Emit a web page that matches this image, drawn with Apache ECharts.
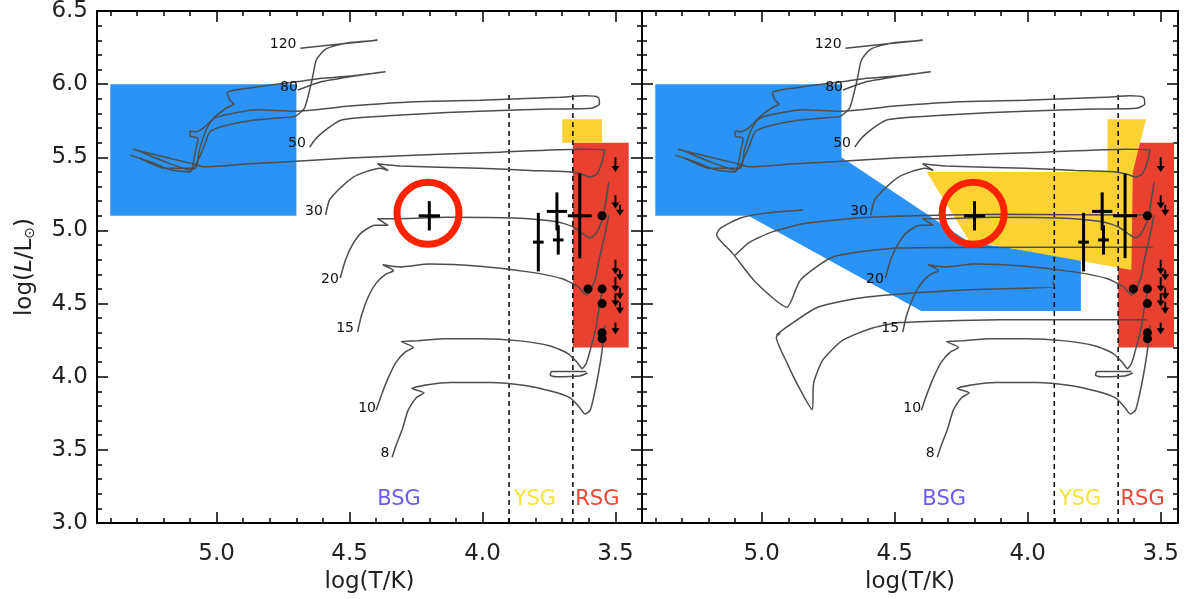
<!DOCTYPE html>
<html><head><meta charset="utf-8">
<script src="https://cdn.jsdelivr.net/npm/echarts@6/dist/echarts.min.js"></script>
<style>html,body{margin:0;padding:0;background:#fff}#c{width:1184px;height:599px}</style>
</head><body><div id="c"></div>
<script>
// ---------- axes ----------
const xMajorTicks = [3.5, 4.0, 4.5, 5.0];
const xMinorTicks = [3.5,3.6,3.7,3.8,3.9,4.0,4.1,4.2,4.3,4.4,4.5,4.6,4.7,4.8,4.9,5.0,5.1,5.2,5.3,5.4];
const yMin = 3.0, yMax = 6.5, yStep = 0.5;
const xRangeLeft = [3.40, 5.45];
const xRangeRight = [3.435, 5.45];

// ---------- shaded regions (logT, logL) ----------
const blueLeft = [[5.40,6.00],[4.70,6.00],[4.70,5.10],[5.40,5.10]];
const yellowLeft = [[3.70,5.76],[3.55,5.76],[3.55,5.60],[3.70,5.60]];
const redBox = [[3.66,5.60],[3.45,5.60],[3.45,4.20],[3.66,4.20]];
const blueRight = [[5.40,6.00],[4.70,6.00],[4.70,5.50],[4.22,4.92],[3.80,4.81],[3.80,4.45],[4.40,4.45],[5.05,5.10],[5.40,5.10]];
const yellowRight = [[4.38,5.40],[3.70,5.40],[3.70,5.76],[3.555,5.76],[3.605,5.40],[3.61,4.73],[4.22,4.93]];

// ---------- dashed boundaries ----------
const dashT = [3.90, 3.66];
const dashL = [3.0, 5.95];

// ---------- evolutionary tracks ----------
const track8 = [[4.34,3.45],[4.325,3.53],[4.30,3.65],[4.28,3.77],[4.25,3.855],[4.22,3.89],[4.265,3.92],[4.205,3.945],[4.12,3.96],[3.97,3.96],[3.84,3.94],[3.74,3.90],[3.67,3.855],[3.635,3.79],[3.615,3.745],[3.595,3.77],[3.58,3.875],[3.565,4.01],[3.55,4.18],[3.54,4.35]];
const track10 = [[4.40,3.77],[4.38,3.875],[4.355,3.99],[4.325,4.10],[4.29,4.17],[4.26,4.20],[4.305,4.24],[4.245,4.245],[4.14,4.26],[4.01,4.26],[3.86,4.245],[3.745,4.21],[3.68,4.16],[3.645,4.10],[3.625,4.055],[3.61,4.09],[3.595,4.18],[3.575,4.32],[3.56,4.49],[3.545,4.63]];
const loop10 = [[3.61,4.035],[3.67,4.035],[3.74,4.035],[3.745,4.01],[3.725,4.00],[3.635,4.005],[3.605,4.025]];
const track15 = [[4.47,4.305],[4.455,4.42],[4.43,4.545],[4.40,4.64],[4.365,4.70],[4.335,4.725],[4.375,4.765],[4.31,4.75],[4.20,4.77],[4.01,4.755],[3.82,4.715],[3.70,4.67],[3.64,4.615],[3.61,4.56],[3.595,4.58],[3.575,4.675],[3.56,4.81],[3.54,4.97],[3.525,5.105]];
const track20 = [[4.535,4.675],[4.515,4.80],[4.49,4.90],[4.455,4.985],[4.405,5.035],[4.355,5.035],[4.395,5.08],[4.33,5.08],[4.135,5.09],[3.885,5.085],[3.72,5.06],[3.66,5.025],[3.62,4.975],[3.595,4.95],[3.575,4.975],[3.55,5.07],[3.535,5.21],[3.525,5.33]];
const track30 = [[4.59,5.105],[4.575,5.21],[4.535,5.29],[4.49,5.36],[4.44,5.40],[4.385,5.425],[4.355,5.41],[4.395,5.455],[4.31,5.44],[4.01,5.425],[3.82,5.41],[3.67,5.40],[3.62,5.38],[3.595,5.365],[3.57,5.385],[3.55,5.47],[3.54,5.55],[3.635,5.555],[3.935,5.535],[4.235,5.515],[4.50,5.495],[4.685,5.475],[4.875,5.455],[5.045,5.435],[5.10,5.46],[5.215,5.51],[5.315,5.555]];
const track50 = [[4.65,5.57],[4.63,5.62],[4.605,5.665],[4.565,5.72],[4.53,5.755],[4.43,5.775],[4.255,5.795],[4.01,5.815],[3.745,5.83],[3.59,5.835],[3.56,5.865],[3.565,5.91],[3.615,5.92],[3.71,5.91],[4.01,5.89],[4.255,5.88],[4.50,5.85],[4.705,5.815],[4.845,5.825],[4.91,5.81],[5.005,5.77],[5.05,5.70],[5.08,5.675],[5.10,5.68],[5.10,5.645],[5.07,5.63],[5.08,5.535],[5.10,5.40],[5.175,5.415],[5.25,5.47],[5.325,5.515]];
const track80 = [[4.695,5.96],[4.61,6.015],[4.50,6.05],[4.365,6.085],[4.50,6.055],[4.605,6.04],[4.685,6.02],[4.835,5.985],[4.93,5.96],[4.96,5.94],[4.95,5.89],[4.935,5.865],[4.965,5.835],[5.01,5.77],[5.04,5.685],[5.065,5.55],[5.08,5.425],[5.195,5.425],[5.29,5.495]];
const track120 = [[4.685,6.245],[4.535,6.275],[4.395,6.30],[4.515,6.28],[4.59,6.24],[4.625,6.165],[4.64,6.04],[4.655,5.925],[4.67,5.835],[4.705,5.78],[4.76,5.77],[4.875,5.75],[4.97,5.715],[5.025,5.675],[5.045,5.585],[5.07,5.48],[5.095,5.41],[5.195,5.47],[5.30,5.55]];
// extra blueward tracks in right panel
const extraA = [[3.552,5.105],[4.10,5.11],[4.59,5.09],[4.83,5.05],[4.96,4.99],[5.045,4.92],[5.10,4.83]];
const extraB = [[3.53,4.885],[3.98,4.885],[4.48,4.88],[4.73,4.82],[4.855,4.66],[4.905,4.475],[5.02,4.64],[5.11,4.845],[5.17,4.97],[5.155,5.015],[5.08,5.085],[4.98,5.12],[4.845,5.14]];
const extraC = [[3.552,4.39],[4.10,4.39],[4.48,4.37],[4.58,4.335],[4.695,4.25],[4.77,4.115],[4.805,3.955],[4.81,3.775],[4.855,3.91],[4.905,4.095],[4.945,4.27],[4.93,4.30]];
const extraD = [[3.905,4.65],[3.90,4.615],[4.23,4.595],[4.605,4.545],[4.79,4.475],[4.905,4.34],[4.945,4.285]];

// ---------- track labels ----------
const massNames = ['120','80','50','30','20','15','10','8'];
const massLabelT = [4.750,4.728,4.698,4.634,4.574,4.517,4.434,4.367];
const massLabelL = [6.274,5.981,5.598,5.133,4.668,4.333,3.787,3.479];

// ---------- observations ----------
// [logT, logL, dlogT, dlogL]
const errPoints = [[4.20,5.10,0.04,0.10],[3.79,4.92,0.02,0.20],[3.72,5.13,0.038,0.13],[3.715,4.935,0.02,0.10],[3.634,5.10,0.045,0.29]];
const dots = [[3.55,5.10],[3.603,4.60],[3.55,4.60],[3.55,4.50],[3.55,4.30],[3.55,4.26]];
// upper limits: [logT, top, arrow tip]
const limits = [[3.50,5.50,5.40],[3.50,5.24,5.15],[3.483,5.175,5.10],[3.50,4.80,4.70],[3.483,4.73,4.66],[3.50,4.68,4.58],[3.483,4.61,4.53],[3.50,4.57,4.48],[3.483,4.51,4.43],[3.50,4.37,4.29]];
const target = [4.205, 5.117];

// ---------- class labels ----------
const classNames = ['BSG','YSG','RSG'];
const classT = [4.314, 3.803, 3.568];
const classL = [3.158, 3.158, 3.158];
const classColors = ['#6a5cf0','#f7e43a','#ee4434'];

const FONT = 'DejaVu Sans';
const BLUE = '#2a93f5', YELLOW = '#fad232', RED = '#e8412f';

const xAxes = [], yAxes = [], series = [];
const grids = [
  {left: 97, top: 11, width: 545, height: 512, outerBoundsMode: 'none'},
  {left: 642, top: 11, width: 536, height: 512, outerBoundsMode: 'none'}
];

function addAxes(g, xr, yLabels) {
  const base = {gridIndex: g, type: 'value', inverse: true, min: xr[0], max: xr[1], splitLine: {show: false}};
  const tickStyle = {color: '#000', width: 1.5};
  const mainX = xAxes.length;
  xAxes.push(Object.assign({}, base, {
    position: 'bottom',
    axisLine: {show: true, onZero: false, lineStyle: {color: '#000', width: 2}},
    axisTick: {show: true, inside: true, length: 11, customValues: xMajorTicks, lineStyle: tickStyle},
    axisLabel: {show: true, customValues: xMajorTicks, formatter: v => v.toFixed(1), margin: 20, color: '#222', fontSize: 23, fontFamily: FONT},
    name: 'log(T/K)', nameLocation: 'middle', nameGap: 43,
    nameTextStyle: {color: '#222', fontSize: 23, fontFamily: FONT}
  }));
  xAxes.push(Object.assign({}, base, {
    position: 'bottom', axisLine: {show: false, onZero: false},
    axisTick: {show: true, inside: true, length: 5, customValues: xMinorTicks, lineStyle: tickStyle},
    axisLabel: {show: false}
  }));
  xAxes.push(Object.assign({}, base, {
    position: 'top', axisLine: {show: true, onZero: false, lineStyle: {color: '#000', width: 2}},
    axisTick: {show: true, inside: true, length: 11, customValues: xMajorTicks, lineStyle: tickStyle},
    axisLabel: {show: false}
  }));
  xAxes.push(Object.assign({}, base, {
    position: 'top', axisLine: {show: false, onZero: false},
    axisTick: {show: true, inside: true, length: 5, customValues: xMinorTicks, lineStyle: tickStyle},
    axisLabel: {show: false}
  }));
  const ybase = {gridIndex: g, type: 'value', min: yMin, max: yMax, interval: yStep, splitLine: {show: false},
    axisLine: {show: true, onZero: false, lineStyle: {color: '#000', width: 2}},
    axisTick: {show: true, inside: true, length: 11, lineStyle: tickStyle},
    minorTick: {show: true, splitNumber: 5, length: 5, lineStyle: tickStyle},
    minorSplitLine: {show: false}};
  const mainY = yAxes.length;
  yAxes.push(Object.assign({}, ybase, {
    position: 'left',
    axisLabel: {show: yLabels, formatter: v => v.toFixed(1), margin: 9, color: '#222', fontSize: 23, fontFamily: FONT},
    name: yLabels ? 'log({i|L}/L{s|⊙})' : '', nameLocation: 'middle', nameGap: 60, nameRotate: 90,
    nameTextStyle: {color: '#222', fontSize: 23, fontFamily: FONT,
      rich: {i: {fontStyle: 'italic', fontSize: 23, fontFamily: FONT, color: '#222'},
             s: {fontSize: 14, fontFamily: FONT, color: '#222', padding: [10, 0, 0, 0]}}}
  }));
  yAxes.push(Object.assign({}, ybase, {position: 'right', axisLabel: {show: false}}));
  return [mainX, mainY];
}

function polySeries(xi, yi, poly, color, z) {
  return {type: 'custom', xAxisIndex: xi, yAxisIndex: yi, z: z, silent: true,
    data: [poly[0]],
    renderItem: (params, api) => ({type: 'polygon',
      shape: {points: poly.map(p => api.coord(p))}, style: {fill: color}})};
}
function trackSeries(xi, yi, data) {
  return {type: 'line', xAxisIndex: xi, yAxisIndex: yi, data: data, showSymbol: false, symbol: 'none',
    smooth: 0.2, z: 4, silent: true, clip: true,
    lineStyle: {color: '#4d4d4d', width: 1.5}};
}

function addPanel(g, xr, yLabels, extras, blue, yellow) {
  const [xi, yi] = addAxes(g, xr, yLabels);
  series.push(polySeries(xi, yi, blue, BLUE, 1));
  series.push(polySeries(xi, yi, redBox, RED, 1));
  series.push(polySeries(xi, yi, yellow, YELLOW, 1));
  dashT.forEach(t => series.push({type: 'line', xAxisIndex: xi, yAxisIndex: yi, z: 3, silent: true,
    data: [[t, dashL[0]], [t, dashL[1]]], showSymbol: false, symbol: 'none',
    lineStyle: {color: '#000', width: 1.5, type: [5, 4]}}));
  [track8, track10, loop10, track15, track20, track30, track50, track80, track120].concat(extras)
    .forEach(t => series.push(trackSeries(xi, yi, t)));
  series.push({type: 'scatter', xAxisIndex: xi, yAxisIndex: yi, z: 7, silent: true,
    symbolSize: 1, itemStyle: {color: 'rgba(0,0,0,0)', opacity: 1},
    data: massNames.map((n, i) => ({name: n, value: [massLabelT[i], massLabelL[i]]})),
    label: {show: true, position: 'inside', formatter: '{b}', color: '#111', fontSize: 14, fontFamily: FONT}});
  series.push({type: 'scatter', xAxisIndex: xi, yAxisIndex: yi, z: 7, silent: true,
    symbolSize: 1, itemStyle: {color: 'rgba(0,0,0,0)', opacity: 1},
    data: classNames.map((n, i) => ({name: n, value: [classT[i], classL[i]],
      label: {color: classColors[i]}})),
    label: {show: true, position: 'inside', formatter: '{b}', fontSize: 21, fontFamily: FONT}});
  series.push({type: 'custom', xAxisIndex: xi, yAxisIndex: yi, z: 6, silent: true,
    data: errPoints, encode: {x: 0, y: 1},
    renderItem: (params, api) => {
      const t = api.value(0), l = api.value(1), dt = api.value(2), dl = api.value(3);
      const a = api.coord([t - dt, l]), b = api.coord([t + dt, l]);
      const c = api.coord([t, l - dl]), d = api.coord([t, l + dl]);
      const st = {stroke: '#000', lineWidth: 3};
      return {type: 'group', children: [
        {type: 'line', shape: {x1: a[0], y1: a[1], x2: b[0], y2: b[1]}, style: st},
        {type: 'line', shape: {x1: c[0], y1: c[1], x2: d[0], y2: d[1]}, style: st}]};
    }});
  series.push({type: 'scatter', xAxisIndex: xi, yAxisIndex: yi, z: 6, silent: true,
    data: dots, symbolSize: 9, itemStyle: {color: '#000', opacity: 1}});
  series.push({type: 'custom', xAxisIndex: xi, yAxisIndex: yi, z: 6, silent: true,
    data: limits, encode: {x: 0, y: 1},
    renderItem: (params, api) => {
      const t = api.value(0);
      const p = api.coord([t, api.value(1)]), q = api.coord([t, api.value(2)]);
      return {type: 'group', children: [
        {type: 'line', shape: {x1: p[0], y1: p[1], x2: q[0], y2: q[1] - 3}, style: {stroke: '#000', lineWidth: 2}},
        {type: 'polygon', shape: {points: [[q[0] - 4, q[1] - 6], [q[0] + 4, q[1] - 6], [q[0], q[1]]]}, style: {fill: '#000'}}]};
    }});
  series.push({type: 'scatter', xAxisIndex: xi, yAxisIndex: yi, z: 8, silent: true,
    data: [target], symbol: 'circle', symbolSize: 62,
    itemStyle: {color: 'rgba(0,0,0,0)', borderColor: '#ff2200', borderWidth: 7, opacity: 1}});
}

addPanel(0, xRangeLeft, true, [], blueLeft, yellowLeft);
addPanel(1, xRangeRight, false, [extraA, extraB, extraC, extraD], blueRight, yellowRight);

const chart = echarts.init(document.getElementById('c'), null, {renderer: 'canvas'});
chart.setOption({
  animation: false,
  backgroundColor: '#fff',
  grid: grids,
  xAxis: xAxes,
  yAxis: yAxes,
  series: series
});
</script>
</body></html>
